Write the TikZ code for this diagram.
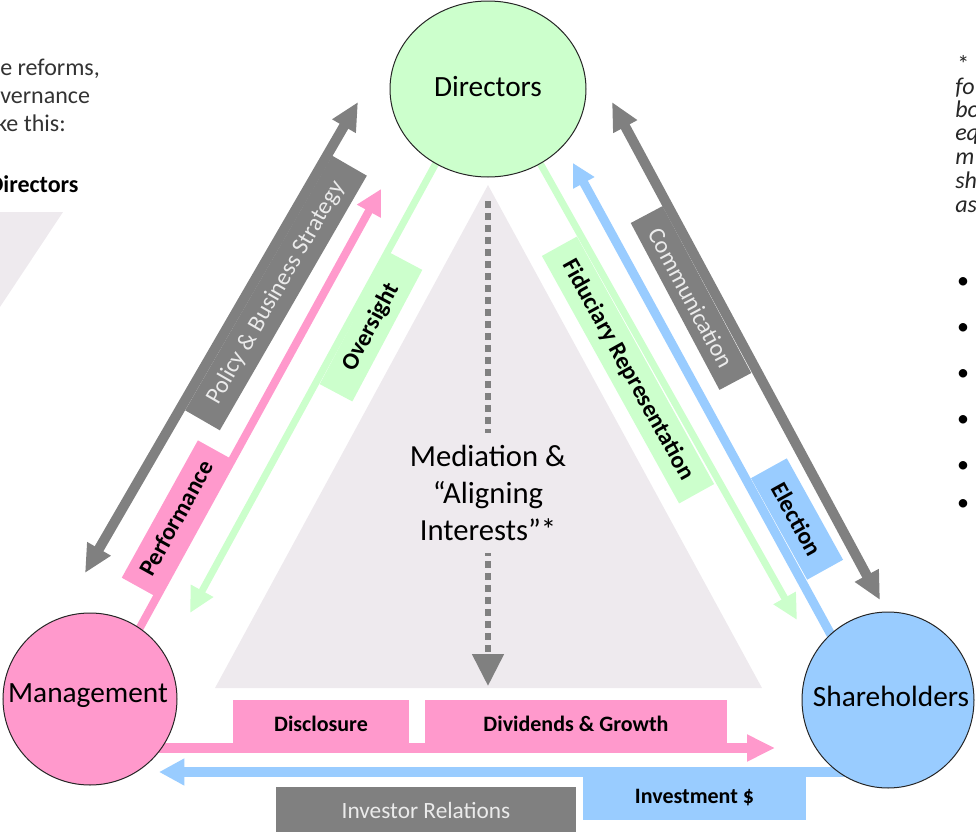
\documentclass[tikz,border=0pt]{standalone}
\usepackage{fontspec}
\setmainfont{Carlito}
\usetikzlibrary{arrows.meta,shapes.geometric}
\pgfdeclarelayer{bg}
\pgfsetlayers{bg,main}
\definecolor{pinkC}{HTML}{FF99CC}
\definecolor{greenC}{HTML}{CCFFCC}
\definecolor{blueC}{HTML}{99CCFF}
\definecolor{grayC}{HTML}{808080}
\definecolor{triC}{HTML}{EEEAEE}
\begin{document}
\begin{tikzpicture}[x=0.75pt,y=-0.75pt,
  circ/.style={ellipse, draw=black!85, line width=0.75pt, inner sep=0pt},
  circtext/.style={inner sep=0pt, font=\fontsize{22}{26}\selectfont, text=black},
  lbl/.style={inner sep=0pt, font=\bfseries\fontsize{18}{20}\selectfont, text=black},
  glbl/.style={inner sep=0pt, fill=grayC, font=\fontsize{18}{20}\selectfont, text=white!92!black},
  hlbl/.style={inner sep=0pt, font=\bfseries\fontsize{16.5}{19}\selectfont, text=black},
  dbl/.style={draw=grayC, line width=7.5pt, {Triangle[length=21pt,width=19pt]}-{Triangle[length=21pt,width=19pt]}},
  pinkarrow/.style={draw=pinkC, line width=6pt, -{Triangle[length=19pt,width=19pt]}},
  greenarrow/.style={draw=greenC, line width=5.25pt, -{Triangle[length=19pt,width=18pt]}},
  bluearrow/.style={draw=blueC, line width=6.75pt, -{Triangle[length=17pt,width=17pt]}},
  dashline/.style={draw=grayC, line width=4.5pt, dash pattern=on 5pt off 4pt, -{Triangle[length=24pt,width=23pt]}},
  lt/.style={inner sep=0pt, font=\fontsize{18}{21}\selectfont, text=black!80},
  rt/.style={inner sep=0pt, font=\itshape\fontsize{18}{20}\selectfont, text=black!85},
]
\useasboundingbox (0,0) rectangle (976,832);

% main actors
\node[circ, fill=greenC, minimum width=147pt, minimum height=132pt] (dir) at (488,89) {};
\node[circ, fill=pinkC, minimum width=130.5pt, minimum height=129pt] (mg) at (90,699) {};
\node[circ, fill=blueC, minimum width=129pt, minimum height=132pt] (sh) at (888,700) {};
\node[circtext] (dirT) at (488,87) {Directors};
\node[circtext] (mgT) at (88,696) {Management};
\node[circtext] (shT) at (891,696) {Shareholders};

% free ends
\coordinate (pbsA) at (85,573);
\coordinate (pbsB) at (358,102);
\coordinate (perfT) at (381,189);
\coordinate (overT) at (190,613);
\coordinate (fidT) at (797,620);
\coordinate (elecT) at (573,163);
\coordinate (comA) at (612,102);
\coordinate (comB) at (880,600);
\coordinate (discT) at (775,748);
\coordinate (invT) at (159,772);
\coordinate (medA) at (488,201);
\coordinate (medB) at (488,686);

\begin{pgfonlayer}{bg}
  \fill[triC] (488,185) -- (762,688) -- (215,688) -- cycle;
  \fill[triC] (0,212) -- (63,212) -- (0,307) -- cycle;
  \draw[dashline] (medA) -- (medB);
  \draw[dbl] (pbsA) -- (pbsB);
  \draw[dbl] (comA) -- (comB);
  \draw[pinkarrow, shorten <=-6pt] (mg.55) -- (perfT);
  \draw[greenarrow, shorten <=-6pt] (dir.235) -- (overT);
  \draw[greenarrow, shorten <=-6pt] (dir.305) -- (fidT);
  \draw[bluearrow, shorten <=-6pt] (sh.131) -- (elecT);
  \draw[draw=pinkC, line width=7.5pt, -{Triangle[length=21pt,width=19pt]}, shorten <=-8pt] (mg.-35 |- discT) -- (discT);
  \draw[draw=blueC, line width=7.5pt, -{Triangle[length=19pt,width=19pt]}, shorten <=-8pt] (sh.235 |- invT) -- (invT);
\end{pgfonlayer}

% diagonal labels
\node[glbl, rotate=60, minimum width=220.5pt, minimum height=30pt] (pbsL) at (276,293) {Policy \& Business Strategy};
\node[lbl, fill=pinkC, rotate=61, minimum width=117.75pt, minimum height=27.75pt] (perfL) at (176,518) {Performance};
\node[lbl, fill=greenC, rotate=62, minimum width=111.75pt, minimum height=27.75pt] (overL) at (371,327) {Oversight};
\node[lbl, fill=greenC, rotate=-61, minimum width=212.25pt, minimum height=30pt] (fidL) at (628,370) {Fiduciary Representation};
\node[lbl, fill=blueC, rotate=-61, minimum width=87pt, minimum height=30.75pt] (elecL) at (797,519) {Election};
\node[glbl, rotate=-62, minimum width=141.75pt, minimum height=27pt] (comL) at (691,298) {Communication};

% bottom labels
\node[hlbl, fill=pinkC, minimum width=132pt, minimum height=36pt] (discL) at (321,724) {Disclosure};
\node[hlbl, fill=pinkC, minimum width=226.5pt, minimum height=36pt] (divL) at (576,724) {Dividends \& Growth};
\node[hlbl, fill=blueC, minimum width=167.25pt, minimum height=33pt] (invL) at (694.5,798) {Investment \$};
\node[glbl, font=\fontsize{17.5}{20}\selectfont, minimum width=225pt, minimum height=34.5pt] (irL) at (426,810) {Investor Relations};

% centre
\node[fill=triC, inner xsep=2pt, inner ysep=9pt, align=center, font=\fontsize{23}{28}\selectfont] (med) at (488,493) {Mediation \&\\“Aligning\\Interests”*};

% cut-off side texts
\node[lt, anchor=base west] (l1) at (0,75) {e reforms,};
\node[lt, anchor=base west] (l2) at (0,103) {vernance};
\node[lt, anchor=base west] (l3) at (-4,131) {ke this:};
\node[lt, font=\bfseries\fontsize{18}{21}\selectfont, text=black, anchor=base west] (l4) at (-12,192) {Directors};

\node[rt, font=\fontsize{18}{20}\selectfont, anchor=base west] (r0) at (957,72) {*};
\node[rt, anchor=base west] (r1) at (955,94) {fo};
\node[rt, anchor=base west] (r2) at (955,117) {bo};
\node[rt, anchor=base west] (r3) at (955,140) {eq};
\node[rt, anchor=base west] (r4) at (955,164) {m};
\node[rt, anchor=base west] (r5) at (955,188) {sh};
\node[rt, anchor=base west] (r6) at (955,212) {as};
\foreach \yy/\nn in {283/b1,329/b2,375/b3,421/b4,467/b5,505/b6}
  \node[inner sep=0pt, font=\fontsize{18}{18}\selectfont, text=black] (\nn) at (963,\yy) {•};
\end{tikzpicture}
\end{document}
